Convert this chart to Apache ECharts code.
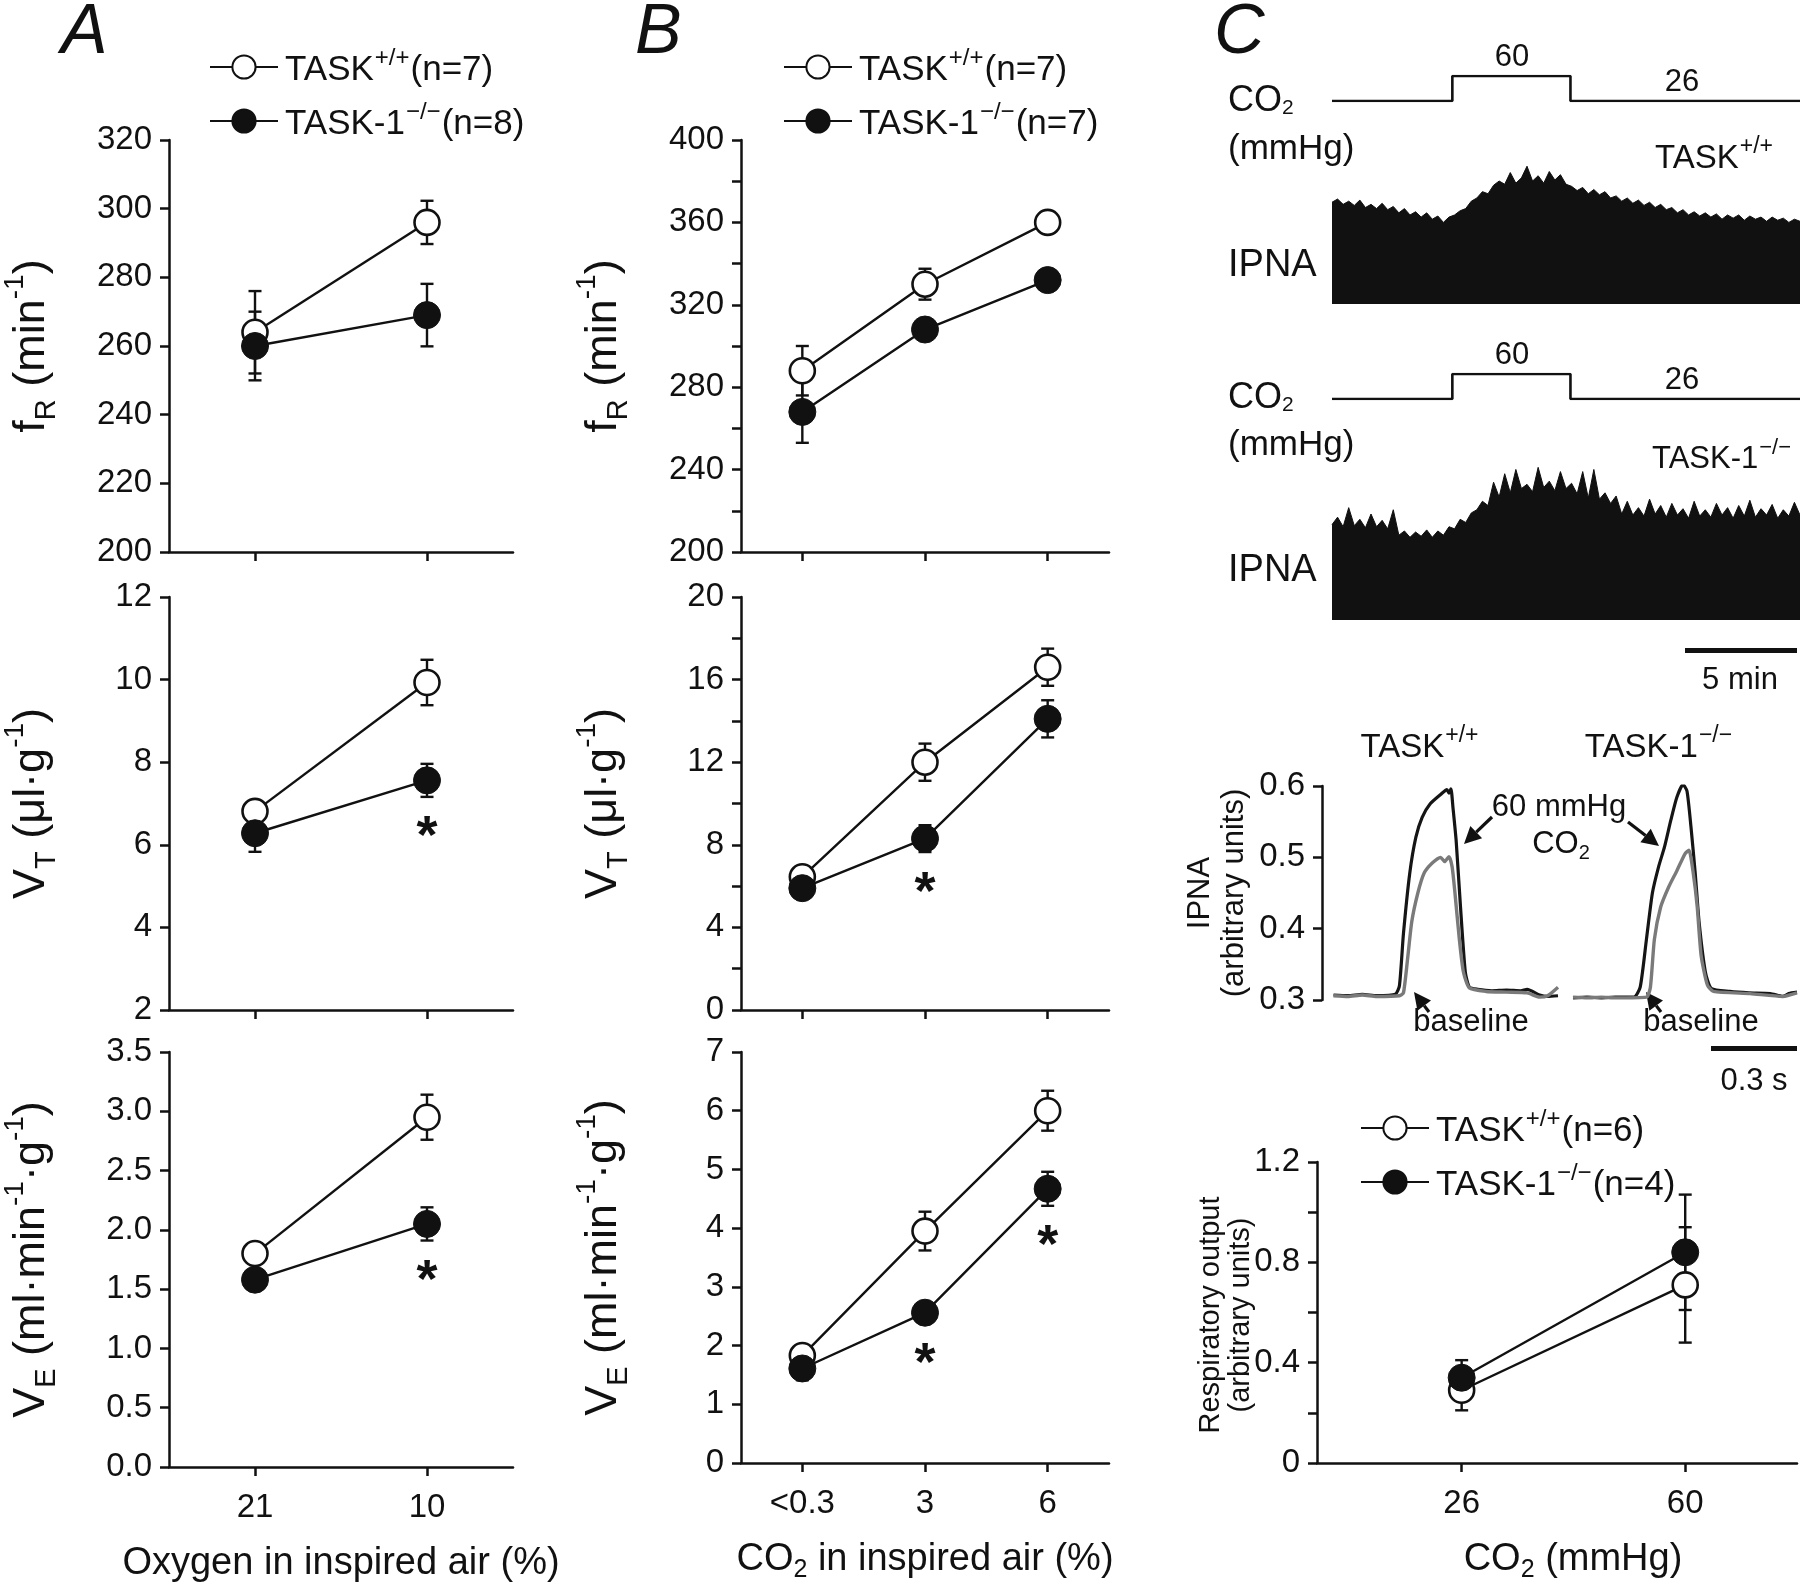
<!DOCTYPE html>
<html><head><meta charset="utf-8">
<script src="https://cdn.jsdelivr.net/npm/echarts@6/dist/echarts.min.js"></script>
<style>html,body{margin:0;padding:0;background:#fff}#c{width:1800px;height:1584px}</style>
</head><body><div id="c"></div>
<script>
const FONT = '"Liberation Sans", Arial, Helvetica, sans-serif';
const INK = '#111';

// ---------------- categories ----------------
const oxyCats = ['21', '10'];
const co2Cats = ['<0.3', '3', '6'];
const C_co2 = [26, 60];

// ---------------- panel A (hypoxia) ----------------
const A_fR_wt = [264, 296],  A_fR_wt_err = [12, 6.3];
const A_fR_ko = [260, 269],  A_fR_ko_err = [10, 9.1];
const A_VT_wt = [6.81, 9.93], A_VT_wt_err = [0.15, 0.55];
const A_VT_ko = [6.28, 7.56], A_VT_ko_err = [0.45, 0.40];
const A_VE_wt = [1.80, 2.95], A_VE_wt_err = [0.05, 0.19];
const A_VE_ko = [1.58, 2.05], A_VE_ko_err = [0.05, 0.14];
const A_VT_star = [[1, 6.5]];
const A_VE_star = [[1, 1.68]];

// ---------------- panel B (hypercapnia) ----------------
const B_fR_wt = [288, 330, 360],   B_fR_wt_err = [12, 7.5, 2];
const B_fR_ko = [268, 308, 332],   B_fR_ko_err = [15, 2, 4];
const B_VT_wt = [6.45, 12.0, 16.6], B_VT_wt_err = [0.3, 0.9, 0.9];
const B_VT_ko = [5.9, 8.3, 14.1],   B_VT_ko_err = [0.5, 0.65, 0.9];
const B_VE_wt = [1.83, 3.95, 6.0],  B_VE_wt_err = [0.1, 0.33, 0.34];
const B_VE_ko = [1.61, 2.56, 4.67], B_VE_ko_err = [0.2, 0.15, 0.29];
const B_VT_star = [[1, 6.3]];
const B_VE_star = [[1, 1.9], [2, 3.92]];

// ---------------- panel C summary ----------------
const C_out_wt = [0.29, 0.71], C_out_wt_err = [0.08, 0.23];
const C_out_ko = [0.34, 0.84], C_out_ko_err = [0.07, 0.23];

// ---------------- tick labels ----------------
const A_fR_labels = [200, 220, 240, 260, 280, 300, 320];
const A_VT_labels = [2, 4, 6, 8, 10, 12];
const A_VE_labels = [0, 0.5, 1, 1.5, 2, 2.5, 3, 3.5];
const B_fR_labels = [200, 240, 280, 320, 360, 400];
const B_VT_labels = [0, 4, 8, 12, 16, 20];
const B_VE_labels = [0, 1, 2, 3, 4, 5, 6, 7];
const C_out_labels = [0, 0.4, 0.8, 1.2];
const wave_labels = [0.3, 0.4, 0.5, 0.6];

// ---------------- CO2 protocol (min, mmHg) ----------------
const co2StepT = [0, 5.4, 5.4, 10.7, 10.7, 21];
const co2StepV = [26, 26, 60, 60, 26, 26];
const co2LabelPts = [[8.08, 60, '60'], [15.7, 26, '26']];

// ---------------- integrated phrenic nerve activity, upper envelope (0.25 min steps) ----------------
const ipnaWT = [96,99,94,97,93,98,91,94,90,95,89,92,86,90,84,87,82,86,80,83,77,82,84,88,90,97,100,106,104,112,116,113,124,114,119,130,116,121,114,125,117,122,113,111,107,110,104,108,103,106,100,102,97,100,95,98,93,96,91,94,89,91,86,89,84,87,83,86,82,85,80,84,81,84,79,83,80,82,78,82,79,81,77,80,78];
const ipnaKO = [90,97,88,106,89,95,87,100,88,94,86,104,80,84,78,83,79,85,78,84,80,88,86,95,92,101,104,112,108,130,116,138,120,142,124,128,121,144,125,131,122,140,124,129,119,140,115,142,114,120,110,117,100,112,99,106,98,114,100,108,97,110,99,105,96,112,98,104,97,110,99,106,96,108,98,113,97,105,99,109,96,104,98,111,99];

// ---------------- averaged IPNA bursts [s, a.u.] ----------------
const waveWT_co2 = [[0,0.307],[0.05,0.306],[0.1,0.308],[0.15,0.306],[0.215,0.308],[0.229,0.32],[0.243,0.393],[0.265,0.478],[0.286,0.528],[0.308,0.556],[0.336,0.575],[0.372,0.588],[0.394,0.595],[0.401,0.59],[0.408,0.596],[0.415,0.57],[0.426,0.524],[0.441,0.432],[0.458,0.339],[0.472,0.318],[0.501,0.315],[0.55,0.313],[0.601,0.314],[0.65,0.313],[0.673,0.315],[0.716,0.307],[0.744,0.305],[0.78,0.306]];
const waveWT_base = [[0,0.306],[0.05,0.305],[0.1,0.307],[0.15,0.305],[0.229,0.306],[0.243,0.31],[0.258,0.36],[0.272,0.41],[0.293,0.45],[0.315,0.478],[0.343,0.492],[0.372,0.5],[0.386,0.494],[0.401,0.501],[0.412,0.487],[0.422,0.45],[0.437,0.386],[0.451,0.34],[0.472,0.317],[0.53,0.312],[0.6,0.311],[0.673,0.31],[0.716,0.304],[0.744,0.306],[0.78,0.318]];
const waveKO_co2 = [[0,0.303],[0.05,0.304],[0.1,0.303],[0.15,0.304],[0.215,0.304],[0.237,0.318],[0.259,0.385],[0.28,0.45],[0.302,0.487],[0.323,0.515],[0.345,0.552],[0.366,0.584],[0.388,0.602],[0.402,0.593],[0.416,0.543],[0.431,0.478],[0.445,0.408],[0.467,0.339],[0.488,0.316],[0.553,0.312],[0.62,0.31],[0.696,0.309],[0.74,0.305],[0.761,0.309],[0.79,0.311]];
const waveKO_base = [[0,0.304],[0.05,0.303],[0.1,0.304],[0.15,0.303],[0.259,0.304],[0.273,0.318],[0.287,0.385],[0.309,0.43],[0.337,0.458],[0.366,0.481],[0.395,0.505],[0.409,0.51],[0.424,0.478],[0.438,0.431],[0.452,0.362],[0.474,0.321],[0.495,0.312],[0.625,0.309],[0.74,0.305],[0.79,0.31]];

// ---------------- legend texts ----------------
const legA = ['{a|TASK}{s|+/+}{a|(n=7)}', '{a|TASK-1}{s|−/−}{a|(n=8)}'];
const legB = ['{a|TASK}{s|+/+}{a|(n=7)}', '{a|TASK-1}{s|−/−}{a|(n=7)}'];
const legC = ['{a|TASK}{s|+/+}{a|(n=6)}', '{a|TASK-1}{s|−/−}{a|(n=4)}'];

// =============== builders ===============
const grids = [], xAxes = [], yAxes = [], series = [];
const TICK_FS = 33;
const AXL = {show: true, onZero: false, lineStyle: {color: INK, width: 2.5}};
const AXT = {show: true, length: 9, lineStyle: {color: INK, width: 2.5}};
const NAME_RICH = {
  m: {fontSize: 45, fontFamily: FONT, color: INK, verticalAlign: 'bottom', padding: [0, 0, 7, 0]},
  sub: {fontSize: 29, fontFamily: FONT, color: INK, verticalAlign: 'bottom'},
  sup: {fontSize: 28, fontFamily: FONT, color: INK, verticalAlign: 'bottom', padding: [0, 0, 32, 0]}
};
const LEG_RICH = {
  a: {fontSize: 35, fontFamily: FONT, color: INK, verticalAlign: 'bottom'},
  s: {fontSize: 24, fontFamily: FONT, color: INK, verticalAlign: 'bottom', padding: [0, 1, 18, 1]}
};
function fmt(labels, dec) {
  return v => labels.some(l => Math.abs(l - v) < 1e-7) ? (Math.abs(v) < 1e-9 && dec === 0 ? '0' : v.toFixed(dec)) : '';
}
function errSeries(xi, yi, xs, vals, errs, z) {
  return {
    type: 'custom', xAxisIndex: xi, yAxisIndex: yi, z: z, silent: true,
    encode: {x: 0, y: [1, 2]},
    data: vals.map((v, i) => [xs[i], v - errs[i], v + errs[i]]),
    renderItem: (params, api) => {
      const lo = api.coord([api.value(0), api.value(1)]);
      const hi = api.coord([api.value(0), api.value(2)]);
      const w = 6.5, st = {stroke: INK, lineWidth: 2.4};
      return {type: 'group', children: [
        {type: 'line', shape: {x1: lo[0], y1: lo[1], x2: hi[0], y2: hi[1]}, style: st},
        {type: 'line', shape: {x1: lo[0] - w, y1: lo[1], x2: lo[0] + w, y2: lo[1]}, style: st},
        {type: 'line', shape: {x1: hi[0] - w, y1: hi[1], x2: hi[0] + w, y2: hi[1]}, style: st}
      ]};
    }
  };
}
// text placed at data coordinates (asterisks, CO2 level labels)
function textSeries(xi, yi, pts, size, bold, dy) {
  return {
    type: 'custom', xAxisIndex: xi, yAxisIndex: yi, z: 6, silent: true,
    encode: {x: 0, y: 1},
    data: pts.map(p => [p[0], p[1]]),
    renderItem: (params, api) => {
      const p = api.coord([api.value(0), api.value(1)]);
      return {type: 'text', x: p[0], y: p[1] + dy, style: {
        text: pts[params.dataIndex][2] || '*', fill: INK, fontFamily: FONT, fontSize: size,
        fontWeight: bold ? 'bold' : 'normal', align: 'center', verticalAlign: 'middle'}};
    }
  };
}
function lineSeries(name, xi, yi, data, filled) {
  return {
    type: 'line', name, xAxisIndex: xi, yAxisIndex: yi, data,
    symbol: 'circle', symbolSize: filled ? 27 : 25, showSymbol: true,
    lineStyle: {color: INK, width: 2.4},
    itemStyle: filled ? {color: INK, borderColor: INK, borderWidth: 1}
                      : {color: '#fff', borderColor: INK, borderWidth: 2.6},
    z: filled ? 4 : 3, emphasis: {disabled: true}, silent: true
  };
}
function addCatPlot(c) {
  const gi = grids.length;
  grids.push({left: c.left, top: c.top, width: c.width, height: c.height});
  xAxes.push({
    type: 'category', gridIndex: gi, data: c.cats, boundaryGap: true,
    axisLine: AXL, axisTick: Object.assign({}, AXT, {alignWithLabel: true}),
    axisLabel: {show: !!c.xName, color: INK, fontSize: TICK_FS, fontFamily: FONT, margin: 24},
    splitLine: {show: false},
    name: c.xName || '', nameLocation: 'middle', nameGap: 78,
    nameTextStyle: {color: INK, fontFamily: FONT, fontSize: 38, rich: {
      m: {fontSize: 38, fontFamily: FONT, color: INK, verticalAlign: 'top'},
      sub: {fontSize: 25, fontFamily: FONT, color: INK, verticalAlign: 'top', padding: [17, 0, 0, 0]}}}
  });
  yAxes.push({
    type: 'value', gridIndex: gi, min: c.min, max: c.max, interval: c.interval,
    axisLine: AXL, axisTick: AXT, splitLine: {show: false},
    axisLabel: {color: INK, fontSize: TICK_FS, fontFamily: FONT, margin: 17, formatter: fmt(c.labels, c.dec)},
    name: c.yName, nameLocation: 'middle', nameGap: c.nameGap,
    nameTextStyle: {color: INK, fontFamily: FONT, fontSize: 45, rich: NAME_RICH}
  });
  const xi = xAxes.length - 1, yi = yAxes.length - 1;
  const xs = c.wt.map((_, i) => i);
  series.push(errSeries(xi, yi, xs, c.wt, c.wtErr, 1));
  series.push(errSeries(xi, yi, xs, c.ko, c.koErr, 1));
  series.push(lineSeries(c.p + '_wt', xi, yi, c.wt, false));
  series.push(lineSeries(c.p + '_ko', xi, yi, c.ko, true));
  if (c.stars) series.push(textSeries(xi, yi, c.stars, 54, true, 14));
}

const ROWS = [{top: 140, height: 412}, {top: 597, height: 413}, {top: 1052, height: 416}];
const NM_fR = '{m|f}{sub|R}{m| (min}{sup|-1}{m|)}';
const NM_VT = '{m|V}{sub|T}{m| (μl·g}{sup|-1}{m|)}';
const NM_VE = '{m|V}{sub|E}{m| (ml·min}{sup|-1}{m|·g}{sup|-1}{m|)}';
const AL = 166, AW = 347, BL = 741, BW = 368, NG = 108;

// Panel A
addCatPlot(Object.assign({p: 'A', left: AL, width: AW, cats: oxyCats, min: 200, max: 320, interval: 20,
  labels: A_fR_labels, dec: 0, yName: NM_fR, nameGap: NG,
  wt: A_fR_wt, wtErr: A_fR_wt_err, ko: A_fR_ko, koErr: A_fR_ko_err}, ROWS[0]));
addCatPlot(Object.assign({p: 'A', left: AL, width: AW, cats: oxyCats, min: 2, max: 12, interval: 2,
  labels: A_VT_labels, dec: 0, yName: NM_VT, nameGap: NG,
  wt: A_VT_wt, wtErr: A_VT_wt_err, ko: A_VT_ko, koErr: A_VT_ko_err, stars: A_VT_star}, ROWS[1]));
addCatPlot(Object.assign({p: 'A', left: AL, width: AW, cats: oxyCats, min: 0, max: 3.5, interval: 0.5,
  labels: A_VE_labels, dec: 1, yName: NM_VE, nameGap: NG, xName: '{m|Oxygen in inspired air (%)}',
  wt: A_VE_wt, wtErr: A_VE_wt_err, ko: A_VE_ko, koErr: A_VE_ko_err, stars: A_VE_star}, ROWS[2]));
// Panel B
addCatPlot(Object.assign({p: 'B', left: BL, width: BW, cats: co2Cats, min: 200, max: 400, interval: 20,
  labels: B_fR_labels, dec: 0, yName: NM_fR, nameGap: NG,
  wt: B_fR_wt, wtErr: B_fR_wt_err, ko: B_fR_ko, koErr: B_fR_ko_err}, ROWS[0]));
addCatPlot(Object.assign({p: 'B', left: BL, width: BW, cats: co2Cats, min: 0, max: 20, interval: 2,
  labels: B_VT_labels, dec: 0, yName: NM_VT, nameGap: NG,
  wt: B_VT_wt, wtErr: B_VT_wt_err, ko: B_VT_ko, koErr: B_VT_ko_err, stars: B_VT_star}, ROWS[1]));
addCatPlot(Object.assign({p: 'B', left: BL, width: BW, cats: co2Cats, min: 0, max: 7, interval: 1,
  labels: B_VE_labels, dec: 0, yName: NM_VE, nameGap: NG, xName: '{m|CO}{sub|2}{m| in inspired air (%)}',
  wt: B_VE_wt, wtErr: B_VE_wt_err, ko: B_VE_ko, koErr: B_VE_ko_err, stars: B_VE_star}, ROWS[2]));

// Panel C: summary plot
(function () {
  const gi = grids.length;
  grids.push({left: 1317, top: 1162, width: 480, height: 306});
  xAxes.push({
    type: 'value', gridIndex: gi, min: 4, max: 77,
    axisLine: AXL, axisTick: Object.assign({}, AXT, {customValues: C_co2}),
    axisLabel: {color: INK, fontSize: TICK_FS, fontFamily: FONT, margin: 24, customValues: C_co2},
    splitLine: {show: false},
    name: '{m|CO}{sub|2}{m| (mmHg)}', nameLocation: 'middle', nameGap: 78,
    nameTextStyle: {color: INK, fontFamily: FONT, fontSize: 38, padding: [0, 0, 0, 32], rich: {
      m: {fontSize: 38, fontFamily: FONT, color: INK, verticalAlign: 'top'},
      sub: {fontSize: 25, fontFamily: FONT, color: INK, verticalAlign: 'top', padding: [17, 0, 0, 0]}}}
  });
  yAxes.push({
    type: 'value', gridIndex: gi, min: 0, max: 1.2, interval: 0.2,
    axisLine: AXL, axisTick: AXT, splitLine: {show: false},
    axisLabel: {color: INK, fontSize: TICK_FS, fontFamily: FONT, margin: 17,
      formatter: v => C_out_labels.some(l => Math.abs(l - v) < 1e-7) ? (Math.abs(v) < 1e-9 ? '0' : v.toFixed(1)) : ''}
  });
  const xi = xAxes.length - 1, yi = yAxes.length - 1;
  series.push(errSeries(xi, yi, C_co2, C_out_wt, C_out_wt_err, 1));
  series.push(errSeries(xi, yi, C_co2, C_out_ko, C_out_ko_err, 1));
  series.push(lineSeries('C_wt', xi, yi, C_co2.map((x, i) => [x, C_out_wt[i]]), false));
  series.push(lineSeries('C_ko', xi, yi, C_co2.map((x, i) => [x, C_out_ko[i]]), true));
})();

// Panel C: raw traces
function hiddenValue(gi, min, max) {
  return {type: 'value', gridIndex: gi, min, max, show: false, splitLine: {show: false}};
}
function addTrace(co2Top, ipnaTop, ipna) {
  let gi = grids.length;
  grids.push({left: 1332, top: co2Top, width: 468, height: 25});
  xAxes.push(hiddenValue(gi, 0, 21));
  yAxes.push(hiddenValue(gi, 26, 60));
  let xi = xAxes.length - 1, yi = yAxes.length - 1;
  series.push({type: 'line', xAxisIndex: xi, yAxisIndex: yi, silent: true, symbol: 'none',
    data: co2StepT.map((t, i) => [t, co2StepV[i]]), lineStyle: {color: INK, width: 2.6}});
  series.push(textSeries(xi, yi, co2LabelPts, 31, false, -19));
  gi = grids.length;
  grids.push({left: 1332, top: ipnaTop, width: 468, height: 159});
  xAxes.push({type: 'category', gridIndex: gi, show: false, boundaryGap: false, data: ipna.map((_, i) => i)});
  yAxes.push(hiddenValue(gi, 0, 150));
  xi = xAxes.length - 1; yi = yAxes.length - 1;
  series.push({type: 'line', xAxisIndex: xi, yAxisIndex: yi, silent: true, symbol: 'none', data: ipna,
    lineStyle: {color: INK, width: 1}, areaStyle: {color: INK, opacity: 1, origin: 'start'}});
}
addTrace(76, 145, ipnaWT);
addTrace(374, 461, ipnaKO);

// Panel C: averaged bursts
function addWave(left, width, xmin, xmax, showY, co2, base) {
  const gi = grids.length;
  grids.push({left, top: 786, width, height: 214});
  xAxes.push(hiddenValue(gi, xmin, xmax));
  yAxes.push(showY ? {
    type: 'value', gridIndex: gi, min: 0.3, max: 0.6, interval: 0.1,
    axisLine: AXL, axisTick: AXT, splitLine: {show: false},
    axisLabel: {color: INK, fontSize: TICK_FS, fontFamily: FONT, margin: 17, formatter: fmt(wave_labels, 1)}
  } : hiddenValue(gi, 0.3, 0.6));
  const xi = xAxes.length - 1, yi = yAxes.length - 1;
  series.push({type: 'line', xAxisIndex: xi, yAxisIndex: yi, silent: true, symbol: 'none', smooth: 0.2,
    data: co2, lineStyle: {color: '#151515', width: 3.2}, z: 2});
  series.push({type: 'line', xAxisIndex: xi, yAxisIndex: yi, silent: true, symbol: 'none', smooth: 0.2,
    data: base, lineStyle: {color: '#7a7a7a', width: 3.4}, z: 3});
}
addWave(1322, 236, -0.04, 0.78, true, waveWT_co2, waveWT_base);
addWave(1573, 224, 0, 0.79, false, waveKO_co2, waveKO_base);

// =============== legends ===============
function mkLegend(names, texts, left, top) {
  return {
    data: names, left, top, orient: 'vertical', itemWidth: 68, itemHeight: 29, itemGap: 12,
    selectedMode: false, formatter: n => texts[names.indexOf(n)],
    textStyle: {color: INK, fontFamily: FONT, fontSize: 35, padding: [0, 0, 0, 2], rich: LEG_RICH}
  };
}
const legends = [
  mkLegend(['A_wt', 'A_ko'], legA, 204, 41),
  mkLegend(['B_wt', 'B_ko'], legB, 778, 41),
  mkLegend(['C_wt', 'C_ko'], legC, 1355, 1102)
];

// =============== annotations ===============
function txt(x, y, text, size, o) {
  o = o || {};
  return {type: 'text', x, y, rotation: o.rot || 0, silent: true, z: 10,
    style: {text, fill: INK, fontFamily: FONT, fontSize: size, fontStyle: o.italic ? 'italic' : 'normal',
      align: o.align || 'left', verticalAlign: o.va || 'middle', rich: o.rich}};
}
const CO2_RICH = {m: {fontSize: 36, fontFamily: FONT, color: INK, verticalAlign: 'bottom'},
                  s: {fontSize: 21, fontFamily: FONT, color: INK, verticalAlign: 'bottom'}};
const SUP_RICH = {m: {fontSize: 33, fontFamily: FONT, color: INK, verticalAlign: 'bottom'},
                  s: {fontSize: 23, fontFamily: FONT, color: INK, verticalAlign: 'bottom', padding: [0, 1, 17, 1]}};
const SUP_RICH2 = {m: {fontSize: 31, fontFamily: FONT, color: INK, verticalAlign: 'bottom'},
                   s: {fontSize: 22, fontFamily: FONT, color: INK, verticalAlign: 'bottom', padding: [0, 0, 16, 1]}};
const SUB_RICH = {m: {fontSize: 31, fontFamily: FONT, color: INK, verticalAlign: 'bottom', padding: [0, 0, 4, 0]},
                  s: {fontSize: 20, fontFamily: FONT, color: INK, verticalAlign: 'bottom'}};
function arrow(x1, y1, x2, y2) {
  const a = Math.atan2(y2 - y1, x2 - x1), L = 17, W = 8.5;
  const bx = x2 - L * Math.cos(a), by = y2 - L * Math.sin(a);
  const px = -Math.sin(a) * W, py = Math.cos(a) * W;
  return [
    {type: 'line', silent: true, shape: {x1, y1, x2: bx, y2: by}, style: {stroke: INK, lineWidth: 3.2}},
    {type: 'polygon', silent: true, shape: {points: [[x2, y2], [bx + px, by + py], [bx - px, by - py]]}, style: {fill: INK}}
  ];
}
const gfx = [
  txt(61, 34, 'A', 70, {italic: true}),
  txt(635, 34, 'B', 70, {italic: true}),
  txt(1214, 34, 'C', 70, {italic: true}),
  txt(1228, 101, '{m|CO}{s|2}', 36, {rich: CO2_RICH}),
  txt(1228, 149, '(mmHg)', 35),
  txt(1655, 155, '{m|TASK}{s|+/+}', 33, {rich: SUP_RICH}),
  txt(1228, 266, 'IPNA', 38),
  txt(1228, 398, '{m|CO}{s|2}', 36, {rich: CO2_RICH}),
  txt(1228, 445, '(mmHg)', 35),
  txt(1652, 456, '{m|TASK-1}{s|−/−}', 31, {rich: SUP_RICH2}),
  txt(1228, 571, 'IPNA', 38),
  {type: 'rect', silent: true, shape: {x: 1685, y: 648, width: 112, height: 5}, style: {fill: INK}},
  txt(1740, 680, '5 min', 31, {align: 'center'}),
  txt(1420, 744, '{m|TASK}{s|+/+}', 33, {align: 'center', rich: SUP_RICH}),
  txt(1659, 744, '{m|TASK-1}{s|−/−}', 33, {align: 'center', rich: SUP_RICH}),
  txt(1200, 893, 'IPNA', 31, {align: 'center', rot: Math.PI / 2}),
  txt(1234, 893, '(arbitrary units)', 31, {align: 'center', rot: Math.PI / 2}),
  txt(1559, 807, '60 mmHg', 31, {align: 'center'}),
  txt(1561, 846, '{m|CO}{s|2}', 31, {align: 'center', rich: SUB_RICH}),
  ...arrow(1492, 817, 1464, 844),
  ...arrow(1628, 822, 1659, 846),
  txt(1471, 1022, 'baseline', 31, {align: 'center'}),
  txt(1701, 1022, 'baseline', 31, {align: 'center'}),
  ...arrow(1429, 1012, 1414, 992),
  ...arrow(1661, 1012, 1646, 992),
  {type: 'rect', silent: true, shape: {x: 1711, y: 1046, width: 86, height: 5}, style: {fill: INK}},
  txt(1754, 1081, '0.3 s', 31, {align: 'center'}),
  txt(1211, 1315, 'Respiratory output', 29, {align: 'center', rot: Math.PI / 2}),
  txt(1241, 1315, '(arbitrary units)', 29, {align: 'center', rot: Math.PI / 2})
];

const chart = echarts.init(document.getElementById('c'), null, {renderer: 'canvas'});
chart.setOption({
  animation: false, backgroundColor: '#fff',
  grid: grids, xAxis: xAxes, yAxis: yAxes, series, legend: legends,
  graphic: {elements: gfx}
});
</script></body></html>
